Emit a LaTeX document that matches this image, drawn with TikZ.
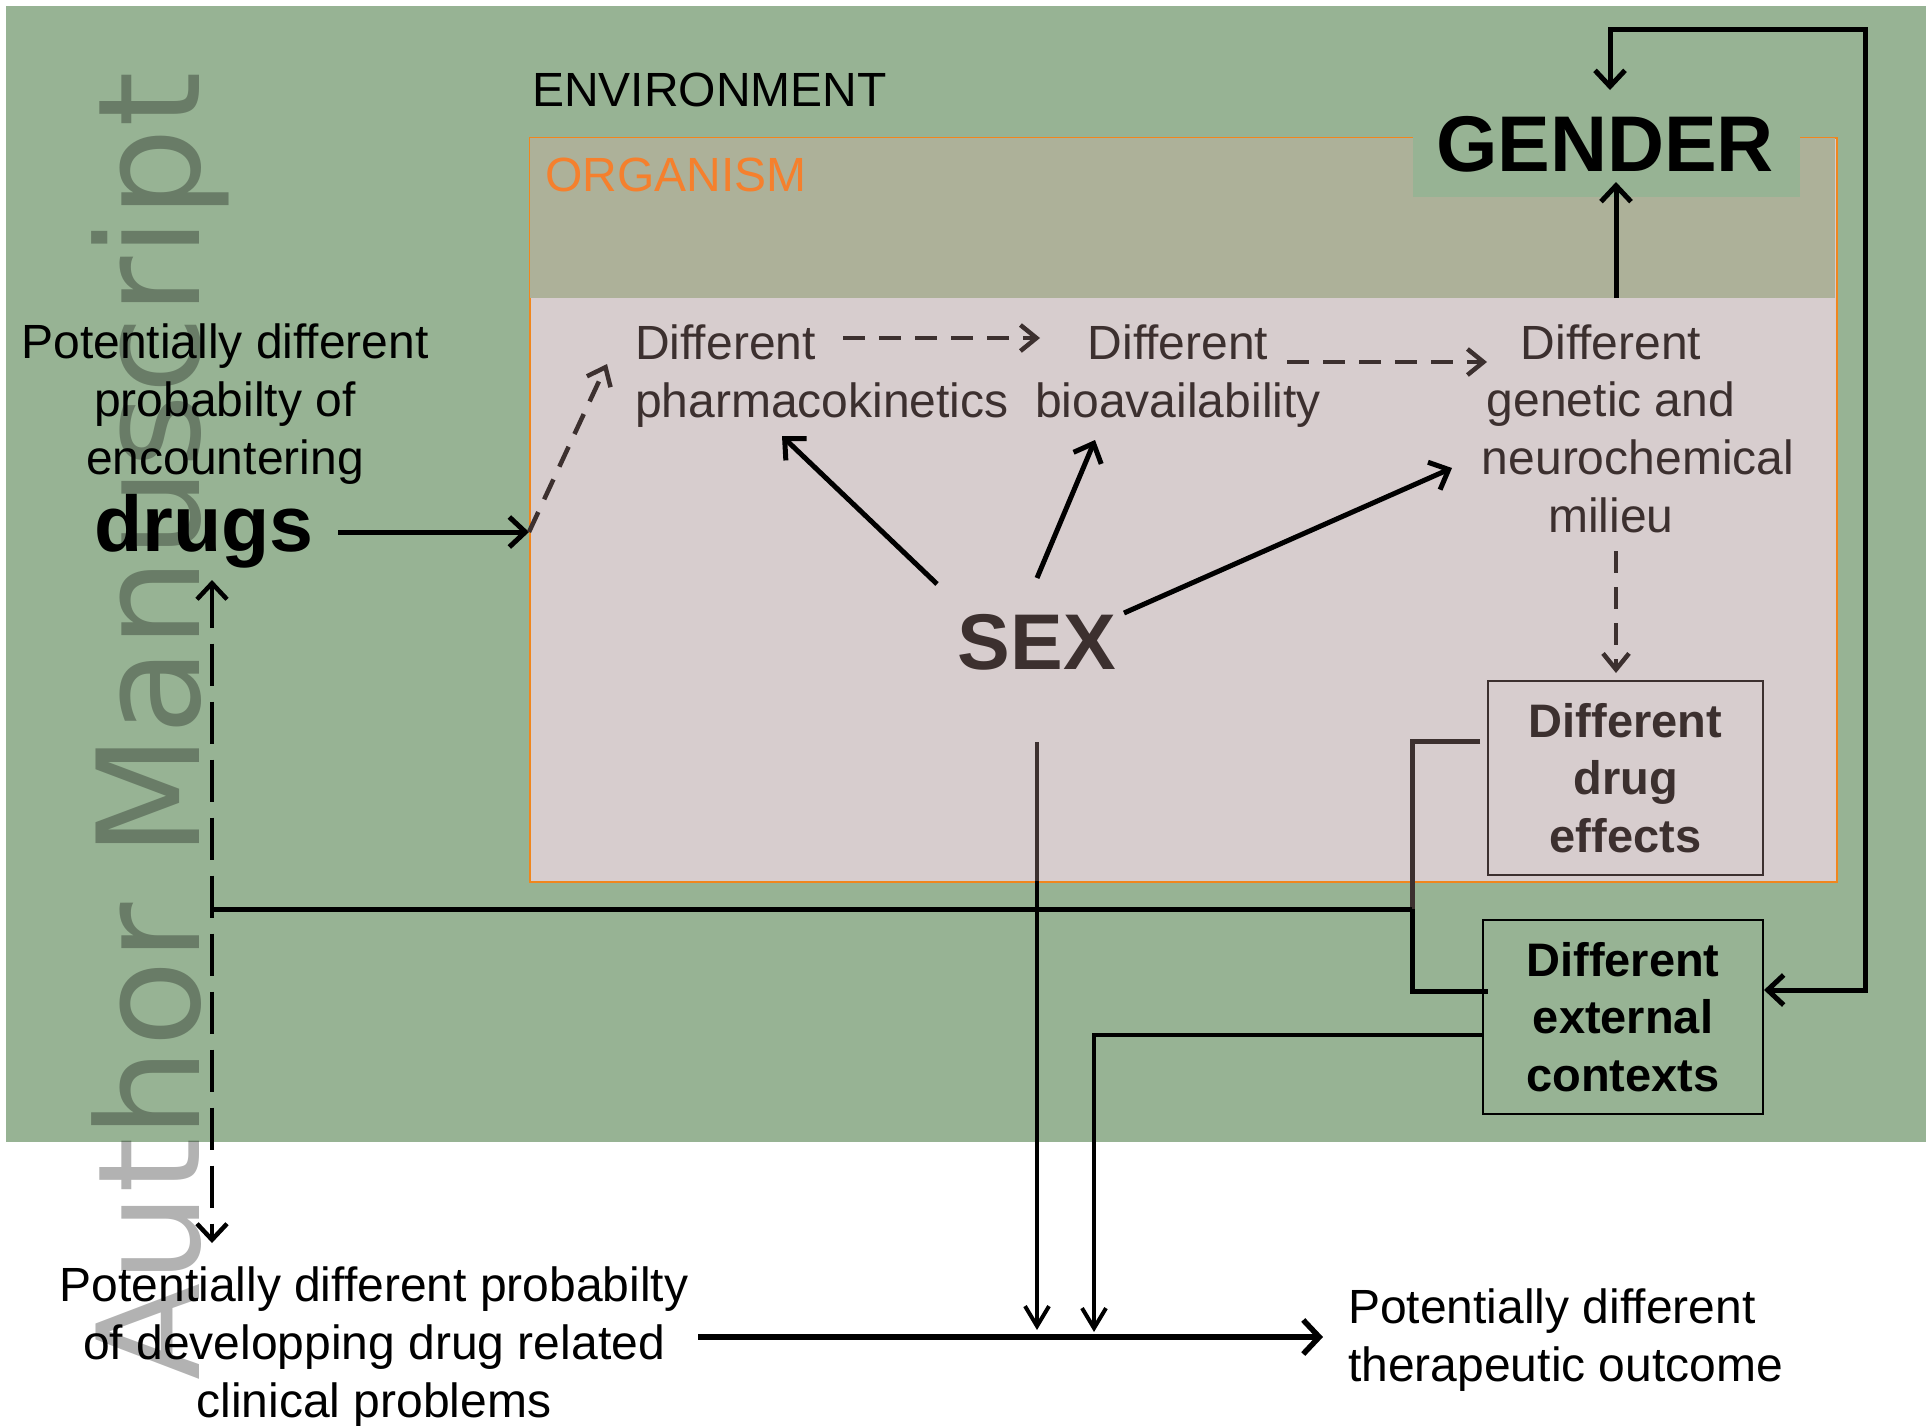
\documentclass[tikz,border=0pt]{standalone}
\usepackage{fontspec}
\setmainfont{Liberation Sans}
\newfontfamily\wmfont{DejaVu Sans}
\usetikzlibrary{arrows.meta}
\definecolor{bggreen}{RGB}{151,179,148}
\definecolor{orgtop}{RGB}{173,177,153}
\definecolor{orglow}{RGB}{215,205,206}
\definecolor{orgline}{RGB}{240,134,30}
\definecolor{orgtext}{RGB}{245,128,45}
\definecolor{dbrown}{RGB}{60,48,47}
\tikzset{
  txt/.style={inner sep=0pt, font=\fontsize{48}{57.6}\selectfont, align=center},
  bigb/.style={inner sep=0pt, font=\fontsize{79}{94}\selectfont\bfseries},
  boxtxt/.style={inner sep=0pt, font=\fontsize{47}{57.5}\selectfont\bfseries, align=center, draw, line width=1.5pt},
  arr/.style={line width=5pt, -{Straight Barb[length=16pt,width=30pt]}},
  arrtwo/.style={line width=5pt, {Straight Barb[length=16pt,width=30pt]}-{Straight Barb[length=16pt,width=30pt]}},
  thinarr/.style={line width=4pt, -{Straight Barb[length=20pt,width=24pt]}},
  dasharr/.style={line width=4.5pt, dbrown, dash pattern=on 22pt off 14pt, -{Straight Barb[length=16pt,width=26pt]}},
  longdash/.style={line width=4.5pt, dash pattern=on 42pt off 16pt, {Straight Barb[length=16pt,width=30pt]}-{Straight Barb[length=16pt,width=30pt]}},
  link/.style={line width=5pt}
}
\begin{document}
\begin{tikzpicture}[x=1pt,y=-1pt]
\useasboundingbox (0,0) rectangle (1930,1425);
% environment background
\fill[bggreen] (6,6) rectangle (1926,1142);
% organism box
\node[draw=orgline, line width=2pt, fill=orglow, inner sep=0pt, anchor=north west,
      minimum width=1307pt, minimum height=744pt] (org) at (529,137) {};
\fill[orgtop] ([shift={(1pt,-1pt)}]org.north west) rectangle (1835,298);
% gender label background
\fill[bggreen] (1413,110) rectangle (1800,197);
% watermark
\node[rotate=90, anchor=base west, inner sep=0pt, text=black, text opacity=0.3,
      font=\wmfont\fontsize{142}{150}\selectfont] (wm) at (199,1381) {Author Manuscript};

% texts (multi-line nodes are anchored at the baseline of their last line)
\node[txt, anchor=base west] (env) at (532,106) {ENVIRONMENT};
\node[txt, anchor=base west, text=orgtext] (orgl) at (545,191) {ORGANISM};
\node[txt, anchor=base] (enc) at (225,474) {Potentially different\\probabilty of\\encountering};
\node[bigb, anchor=base] (drugs) at (204,551) {drugs};
\node[bigb, anchor=base] (gender) at (1605,171) {GENDER};
\node[bigb, anchor=base, text=dbrown] (sex) at (1037,669) {SEX};
\node[txt, anchor=base west, align=left, text=dbrown] (pk) at (635,417) {Different\\pharmacokinetics};
\node[txt, anchor=base, text=dbrown] (bio) at (1178,417) {Different\\bioavailability};
\node[txt, anchor=base, text=dbrown] (gen) at (1611,532) {Different\\genetic and\\\hspace*{54pt}neurochemical\\milieu};
\node[boxtxt, draw=dbrown, text=dbrown, minimum width=275pt, minimum height=194pt] (eff) at (1625.5,778) {Different\\drug\\effects};
\node[boxtxt, draw=black, text=black, minimum width=280pt, minimum height=194pt] (ext) at (1623,1017) {Different\\external\\contexts};
\node[txt, anchor=base] (clin) at (374,1417) {Potentially different probabilty\\of developping drug related\\clinical problems};
\node[txt, anchor=base west, align=left] (ther) at (1348,1381) {Potentially different\\therapeutic outcome};

% connector end points
\coordinate (drA) at (338,532);
\coordinate (orgIn) at (529,532);
\coordinate (pkIn) at (607,364);
\coordinate (pkOut) at (843,338);
\coordinate (bioIn) at (1040,338);
\coordinate (bioOut) at (1287,362);
\coordinate (genIn) at (1487,362);
\coordinate (sexA) at (937,584);
\coordinate (pkB) at (782,436);
\coordinate (sexB) at (1037,578);
\coordinate (bioB) at (1095,440);
\coordinate (sexC) at (1124,613);
\coordinate (genC) at (1452,468);
\coordinate (genTop) at (1616,298);
\coordinate (genderBot) at (1616,182);
\coordinate (genderTop) at (1610,90);
\coordinate (extR) at (1764,990);
\coordinate (genBot) at (1616,551);
\coordinate (effTop) at (1616,673);
\coordinate (effL) at (1480,741);
\coordinate (extL) at (1488,991);
\coordinate (brX) at (1412,909);
\coordinate (dashTop) at (212,580);
\coordinate (dashBot) at (212,1243);
\coordinate (dashJ) at (212,909);
\coordinate (sexBot) at (1037,742);
\coordinate (sexMid) at (1037,881);
\coordinate (sexEnd) at (1037,1330);
\coordinate (extO) at (1483,1035);
\coordinate (extEnd) at (1094,1332);
\coordinate (clinR) at (698,1337);
\coordinate (therL) at (1323,1337);

% connectors
\draw[arr] (drA) -- (orgIn);
\draw[dasharr] (orgIn) -- (pkIn);
\draw[dasharr] (pkOut) -- (bioIn);
\draw[dasharr] (bioOut) -- (genIn);
\draw[arr] (sexA) -- (pkB);
\draw[arr] (sexB) -- (bioB);
\draw[arr] (sexC) -- (genC);
\draw[arr] (genTop) -- (genderBot);
\draw[arrtwo] (extR) -- (1865,990) -- (1865,29) -| (genderTop);
\draw[dasharr] (genBot) -- (effTop);
\draw[link, dbrown] (effL) -| (brX);
\draw[link] (brX) |- (extL);
\draw[link] (dashJ) -- (brX);
\draw[longdash] (dashTop) -- (dashBot);
\draw[line width=4pt, dbrown] (sexBot) -- (sexMid);
\draw[thinarr] (sexMid) -- (sexEnd);
\draw[thinarr] (extO) -| (extEnd);
\draw[line width=5.5pt, -{Straight Barb[length=16pt,width=34pt]}] (clinR) -- (therL);
\end{tikzpicture}
\end{document}
